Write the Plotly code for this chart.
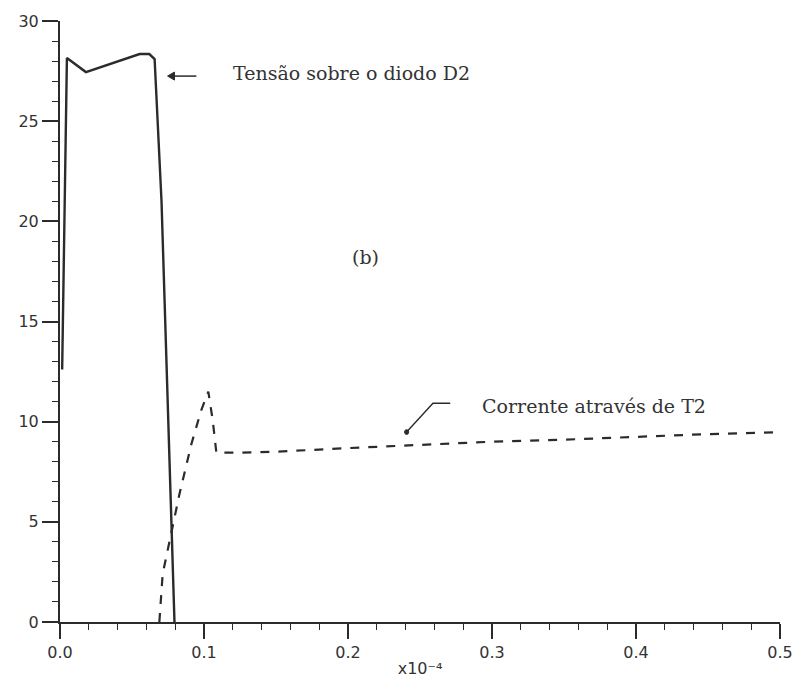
import plotly.graph_objects as go

# Tensão sobre o diodo D2
x_vd2 = [0.0015, 0.0048, 0.018, 0.0553, 0.062, 0.0657, 0.0705, 0.0795]
y_vd2 = [12.6, 28.15, 27.45, 28.35, 28.35, 28.1, 21.0, 0.0]

# Corrente através de T2
x_it2 = [0.069, 0.0713, 0.083, 0.0913, 0.098, 0.103, 0.106, 0.1086, 0.125, 0.15, 0.2, 0.25, 0.3, 0.35, 0.4, 0.45, 0.5]
y_it2 = [0.0, 2.4, 6.4, 8.9, 10.55, 11.5, 10.1, 8.45, 8.45, 8.5, 8.68, 8.85, 9.0, 9.1, 9.25, 9.38, 9.48]

x_ticks = [0.0, 0.1, 0.2, 0.3, 0.4, 0.5]
x_ticklabels = ["0.0", "0.1", "0.2", "0.3", "0.4", "0.5"]
y_ticks = [0, 5, 10, 15, 20, 25, 30]

ink = "#2b2b2b"

fig = go.Figure()
fig.add_trace(go.Scatter(x=x_vd2, y=y_vd2, mode="lines",
                         line=dict(color=ink, width=2.4), name="Tensão sobre o diodo D2",
                         showlegend=False))
fig.add_trace(go.Scatter(x=x_it2, y=y_it2, mode="lines",
                         line=dict(color=ink, width=2.2, dash="9px,9px"),
                         name="Corrente através de T2", showlegend=False))

tick_font = dict(family="DejaVu Sans", size=16, color="#333333")
serif = dict(family="DejaVu Serif", size=19, color="#333333")

fig.update_layout(
    width=805, height=690,
    margin=dict(l=60, r=22, t=20, b=68),
    paper_bgcolor="white", plot_bgcolor="white",
    showlegend=False,
    xaxis=dict(range=[0, 0.5], tickvals=x_ticks, ticktext=x_ticklabels,
               showgrid=False, zeroline=False, showline=True, linecolor=ink, linewidth=2,
               ticks="outside", ticklen=15, tickwidth=1.5, tickcolor=ink,
               minor=dict(dtick=0.02, ticks="outside", ticklen=6, tickwidth=1.2, tickcolor=ink),
               tickfont=tick_font,
               title=dict(text="x10⁻⁴", font=dict(family="DejaVu Sans", size=16, color="#333333"),
                          standoff=2)),
    yaxis=dict(range=[0, 30], tickvals=y_ticks,
               showgrid=False, zeroline=False, showline=True, linecolor=ink, linewidth=2,
               ticks="outside", ticklen=16, tickwidth=1.5, tickcolor=ink,
               minor=dict(dtick=1, ticks="outside", ticklen=6, tickwidth=1.2, tickcolor=ink),
               tickfont=tick_font),
    annotations=[
        dict(x=0.119, y=27.4, xref="x", yref="y", text="Tensão sobre o diodo D2",
             showarrow=False, xanchor="left", yanchor="middle", font=serif),
        dict(x=0.2123, y=18.2, xref="x", yref="y", text="(b)",
             showarrow=False, xanchor="center", yanchor="middle", font=serif),
        dict(x=0.2918, y=10.8, xref="x", yref="y", text="Corrente através de T2",
             showarrow=False, xanchor="left", yanchor="middle", font=serif),
    ],
    shapes=[
        # arrow pointing at the D2 voltage curve
        dict(type="line", xref="x", yref="y", x0=0.0785, y0=27.25, x1=0.0947, y1=27.25,
             line=dict(color=ink, width=1.5)),
        dict(type="path", xref="x", yref="y",
             path="M 0.0747 27.25 L 0.0795 27.45 L 0.0795 27.05 Z",
             fillcolor=ink, line=dict(color=ink, width=1)),
        # leader to the T2 current curve
        dict(type="path", xref="x", yref="y",
             path="M 0.2407 9.48 L 0.259 10.92 L 0.271 10.92",
             line=dict(color=ink, width=1.4)),
        dict(type="circle", xref="x", yref="y", x0=0.2393, y0=9.36, x1=0.2421, y1=9.6,
             fillcolor=ink, line=dict(color=ink, width=1)),
    ],
)

fig.write_html("out.html")
